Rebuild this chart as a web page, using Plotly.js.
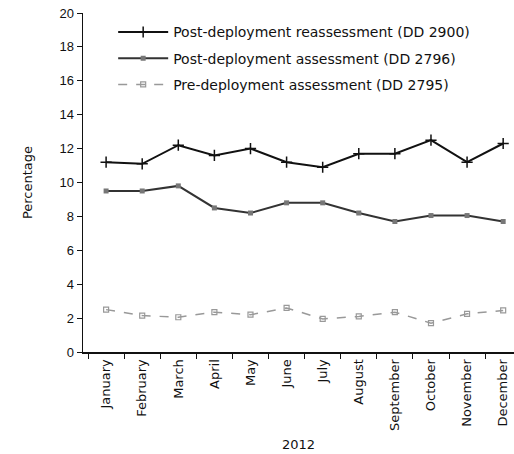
<!DOCTYPE html>
<html><head><meta charset="utf-8">
<script src="https://cdn.plot.ly/plotly-3.0.1.min.js"></script>
<style>html,body{margin:0;padding:0;background:#fff}</style>
</head><body><div id="chart" style="width:514px;height:454px"></div>
<script>
var months = ["January","February","March","April","May","June","July","August","September","October","November","December"];
var postReassessment = [11.2, 11.1, 12.2, 11.6, 12.0, 11.2, 10.9, 11.7, 11.7, 12.5, 11.2, 12.3];
var postAssessment = [9.5, 9.5, 9.8, 8.5, 8.2, 8.8, 8.8, 8.2, 7.7, 8.05, 8.05, 7.7];
var preAssessment = [2.5, 2.15, 2.05, 2.35, 2.2, 2.6, 1.95, 2.1, 2.35, 1.7, 2.25, 2.45];
var seriesNames = ["Post-deployment reassessment (DD 2900)", "Post-deployment assessment (DD 2796)", "Pre-deployment assessment (DD 2795)"];
var xTitle = "2012";
var yTitle = "Percentage";

var font = "Liberation Sans, Arial, sans-serif";
var wide = "DejaVu Sans, sans-serif";
var traces = [
  {x: months, y: postReassessment, name: seriesNames[0], legendgroup: "a", type: "scatter", mode: "lines+markers",
   line: {color: "#111", width: 2},
   marker: {symbol: "cross-thin", size: 8, color: "#111", line: {color: "#111", width: 1.5}}},
  {x: months, y: postAssessment, name: seriesNames[1], legendgroup: "b", type: "scatter", mode: "lines+markers",
   line: {color: "#333", width: 2},
   marker: {symbol: "square", size: 5, color: "#777"}},
  {x: months, y: preAssessment, name: seriesNames[2], legendgroup: "c", type: "scatter", mode: "lines+markers",
   line: {color: "#999", width: 1.5, dash: "dash"},
   marker: {symbol: "square-open", size: 5, color: "#999", line: {width: 1.2}}}
];
var layout = {
  width: 514, height: 454,
  margin: {l: 83, r: 0, t: 13, b: 102},
  paper_bgcolor: "#fff", plot_bgcolor: "#fff",
  showlegend: true,
  legend: {x: 0.07, y: 0.99, xanchor: "left", yanchor: "top", bgcolor: "rgba(0,0,0,0)",
           font: {family: wide, size: 14, color: "#111"}, itemwidth: 50,
           traceorder: "grouped", tracegroupgap: 5},
  xaxis: {type: "category", range: [-0.64, 11.3], tickangle: -90, tickson: "boundaries",
          ticks: "outside", ticklen: 5, tickcolor: "#111", showline: true, linecolor: "#111", linewidth: 2,
          showgrid: false, zeroline: false,
          tickfont: {family: wide, size: 13, color: "#111"},
          title: {text: xTitle, font: {family: wide, size: 13, color: "#111"}, standoff: 10}},
  yaxis: {range: [0, 20], dtick: 2, ticks: "outside", ticklen: 5, tickcolor: "#111",
          showline: true, linecolor: "#111", linewidth: 1.5, showgrid: false, zeroline: false,
          tickfont: {family: font, size: 13, color: "#111"},
          title: {text: yTitle, font: {family: wide, size: 13, color: "#111"}, standoff: 24}}
};
Plotly.newPlot("chart", traces, layout, {displayModeBar: false, staticPlot: true});
</script></body></html>
